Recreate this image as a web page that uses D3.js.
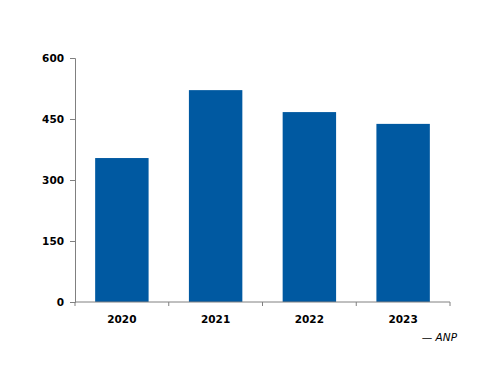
<!DOCTYPE html>
<html>
<head>
    <title>Bar Chart</title>
    <style>
        body { margin: 0; background: #fff; }
        text { font-family: "DejaVu Sans", sans-serif; }
    </style>
    <script src="https://d3js.org/d3.v7.min.js"></script>
</head>
<body>
    <div id="chart"></div>
    <script>
        var years = ['2020', '2021', '2022', '2023'];
        var values = [354, 521, 467, 438];
        var yTicks = [0, 150, 300, 450, 600];
        var source = '— ANP';

        var margin = { top: 58, right: 50, bottom: 84, left: 75 };
        var width = 500 - margin.left - margin.right;
        var height = 386 - margin.top - margin.bottom;

        var svg = d3.select('#chart').append('svg')
            .attr('width', 500)
            .attr('height', 386);

        var g = svg.append('g')
            .attr('transform', 'translate(' + margin.left + ',' + margin.top + ')');

        var x = d3.scaleBand()
            .domain(years)
            .range([0, width])
            .paddingInner(0.43)
            .paddingOuter(0.215);

        var y = d3.scaleLinear()
            .domain([0, 600])
            .range([height, 0]);

        g.selectAll('rect')
            .data(values)
            .enter()
            .append('rect')
            .attr('x', function(d, i) { return x(years[i]); })
            .attr('y', function(d) { return y(d); })
            .attr('width', x.bandwidth())
            .attr('height', function(d) { return height - y(d); })
            .attr('fill', '#0059a1');

        // y axis
        var yAxis = g.append('g')
            .call(d3.axisLeft(y).tickValues(yTicks).tickSize(5).tickPadding(6));
        yAxis.selectAll('line, path').attr('stroke', '#808080');
        yAxis.selectAll('text')
            .attr('font-size', 10.5)
            .attr('font-weight', 'bold')
            .attr('fill', '#000');

        // x axis with ticks on the category boundaries
        var xAxis = g.append('g')
            .attr('transform', 'translate(0,' + height + ')');
        xAxis.append('line')
            .attr('x1', 0).attr('x2', width)
            .attr('stroke', '#808080');
        var step = width / years.length;
        xAxis.selectAll('.bound')
            .data(d3.range(years.length + 1))
            .enter()
            .append('line')
            .attr('x1', function(d) { return d * step; })
            .attr('x2', function(d) { return d * step; })
            .attr('y1', 0).attr('y2', 4)
            .attr('stroke', '#808080');
        xAxis.selectAll('.lbl')
            .data(years)
            .enter()
            .append('text')
            .attr('x', function(d) { return x(d) + x.bandwidth() / 2; })
            .attr('y', 21)
            .attr('text-anchor', 'middle')
            .attr('font-size', 10.5)
            .attr('font-weight', 'bold')
            .text(function(d) { return d; });

        svg.append('text')
            .attr('x', 457)
            .attr('y', 341)
            .attr('text-anchor', 'end')
            .attr('font-size', 10.5)
            .attr('font-style', 'italic')
            .text(source);
    </script>
</body>
</html>
